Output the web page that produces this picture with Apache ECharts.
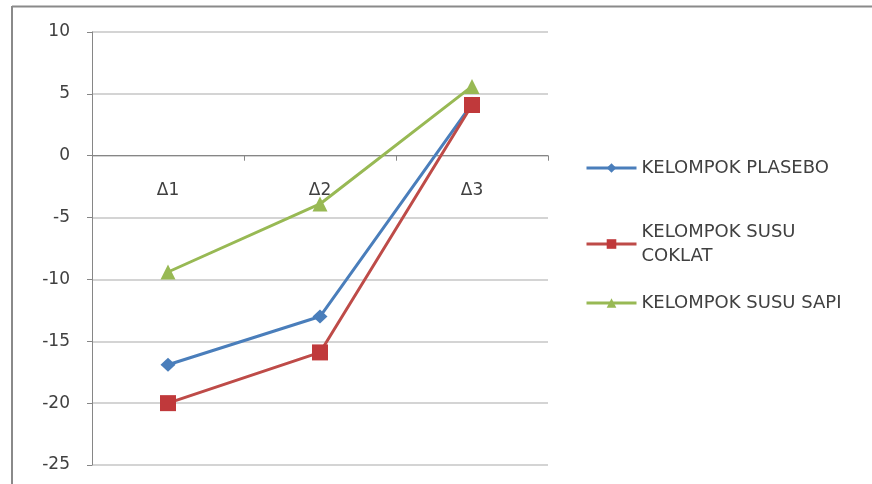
<!DOCTYPE html>
<html>
<head>
<meta charset="utf-8">
<script src="https://cdn.jsdelivr.net/npm/echarts@6/dist/echarts.min.js"></script>
<style>
  html, body { margin: 0; padding: 0; background: #fff; }
  #chart { width: 872px; height: 484px; }
</style>
</head>
<body>
<div id="chart"></div>
<script>
  // data
  var categories = ['Δ1', 'Δ2', 'Δ3'];
  var plasebo = [-16.9, -13.0, 4.2];
  var susuCoklat = [-20.0, -15.9, 4.1];
  var susuSapi = [-9.4, -3.9, 5.6];
  var yTicks = { min: -25, max: 10, interval: 5 };

  var textColor = '#404040';
  var fontFamily = 'DejaVu Sans';
  var gridTop = 32, gridBottom = 19, chartH = 484;

  var myChart = echarts.init(document.getElementById('chart'));

  // pixel of value 0 inside the grid, used to put the category labels next to the zero line
  var plotH = chartH - gridTop - gridBottom;
  var zeroOffset = plotH * (0 - yTicks.min) / (yTicks.max - yTicks.min);

  function legendBox(name, top) {
    return {
      data: [name],
      left: 585,
      top: top,
      padding: 0,
      orient: 'vertical',
      itemWidth: 50,
      itemHeight: 12,
      itemGap: 0,
      lineStyle: { width: 3 },
      textStyle: { color: textColor, fontSize: 18, fontFamily: fontFamily, lineHeight: 24 }
    };
  }

  var option = {
    backgroundColor: '#fff',
    animation: false,
    grid: { left: 92, right: 324, top: gridTop, bottom: gridBottom, containLabel: false, outerBoundsMode: 'none' },
    legend: [
      legendBox('KELOMPOK PLASEBO', 156),
      legendBox('KELOMPOK SUSU\nCOKLAT', 220),
      legendBox('KELOMPOK SUSU SAPI', 291)
    ],
    xAxis: [
      {
        type: 'category',
        data: categories,
        boundaryGap: true,
        axisLine: { onZero: true, lineStyle: { color: '#868686', width: 1 } },
        axisTick: { show: true, length: 5, lineStyle: { color: '#868686' } },
        axisLabel: { show: false }
      },
      {
        // labels only, sitting just below the zero line
        type: 'category',
        data: categories,
        position: 'bottom',
        offset: -zeroOffset,
        boundaryGap: true,
        axisLine: { show: false, onZero: false },
        axisTick: { show: false },
        axisLabel: { color: textColor, fontSize: 17, fontFamily: fontFamily, margin: 26 }
      }
    ],
    yAxis: {
      type: 'value',
      min: yTicks.min,
      max: yTicks.max,
      interval: yTicks.interval,
      axisLine: { show: true, lineStyle: { color: '#868686' } },
      axisTick: { show: true, length: 5, lineStyle: { color: '#868686' } },
      axisLabel: { color: textColor, fontSize: 17, fontFamily: fontFamily, margin: 22 },
      splitLine: { show: true, lineStyle: { color: '#c6c6c6', width: 1.5 } }
    },
    series: [
      {
        name: 'KELOMPOK PLASEBO',
        type: 'line',
        data: plasebo,
        symbol: 'diamond',
        symbolSize: [15, 14],
        color: '#4A7EBB',
        lineStyle: { width: 3, color: '#4A7EBB' },
        itemStyle: { color: '#4A7EBB' }
      },
      {
        name: 'KELOMPOK SUSU\nCOKLAT',
        type: 'line',
        data: susuCoklat,
        symbol: 'rect',
        symbolSize: 16,
        color: '#BE4B48',
        lineStyle: { width: 3, color: '#BE4B48' },
        itemStyle: { color: '#C0393B' }
      },
      {
        name: 'KELOMPOK SUSU SAPI',
        type: 'line',
        data: susuSapi,
        symbol: 'triangle',
        symbolSize: 15,
        color: '#98B954',
        lineStyle: { width: 3, color: '#98B954' },
        itemStyle: { color: '#98B954' }
      }
    ],
    graphic: [
      // outer chart frame (top and left edges visible)
      { type: 'line', shape: { x1: 12, y1: 6.5, x2: 872, y2: 6.5 }, style: { stroke: '#8a8a8a', lineWidth: 2 } },
      { type: 'line', shape: { x1: 12, y1: 6, x2: 12, y2: 484 }, style: { stroke: '#8a8a8a', lineWidth: 2 } }
    ]
  };

  myChart.setOption(option);
</script>
</body>
</html>
